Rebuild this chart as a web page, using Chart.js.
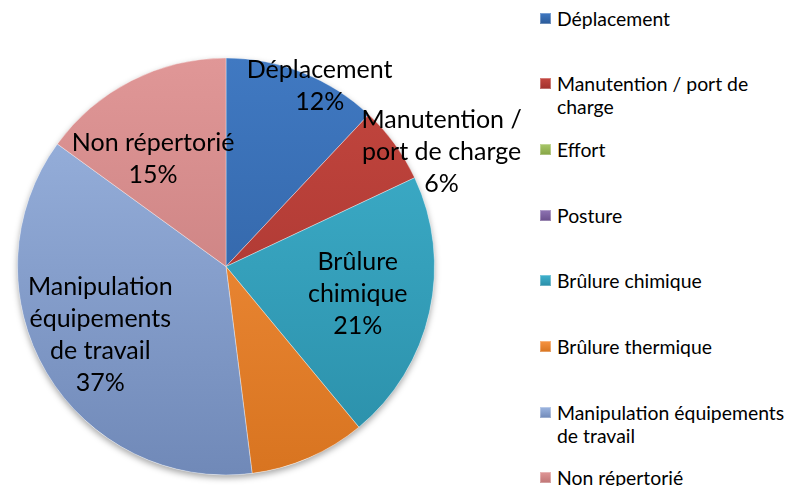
<!DOCTYPE html>
<html lang="fr">
<head>
<meta charset="utf-8">
<script src="https://cdn.jsdelivr.net/npm/chart.js@4/dist/chart.umd.min.js"></script>
<style>
    html, body { margin: 0; padding: 0; background: #fff; }
    #zone { position: relative; width: 793px; height: 486px; overflow: hidden; font-family: Lato, "Open Sans", sans-serif; }
    #graphique { position: absolute; left: 0; top: 0; }
    #legende { position: absolute; left: 540px; top: 0; width: 253px; height: 486px; }
    .item { position: absolute; left: 0; width: 253px; font-size: 19.4px; line-height: 23px; color: #000; }
    .item .carre { position: absolute; left: 0; top: 6px; width: 11px; height: 11px; }
    .item .texte { display: block; margin-left: 17px; width: 236px; }
</style>
</head>
<body>
<div id="zone">
    <canvas id="graphique" width="540" height="486"></canvas>
    <div id="legende"></div>
</div>
<script>
// Données du graphique (répartition en %)
const categories = ['Déplacement', 'Manutention / port de charge', 'Effort', 'Posture',
    'Brûlure chimique', 'Brûlure thermique', 'Manipulation équipements de travail', 'Non répertorié'];
const valeurs = [12, 6, 0, 0, 21, 9, 37, 15];
// Texte des étiquettes dans les secteurs (null = pas d'étiquette)
const etiquettes = [
    ['Déplacement'],
    ['Manutention /', 'port de charge'],
    null,
    null,
    ['Brûlure', 'chimique'],
    null,
    ['Manipulation', 'équipements', 'de travail'],
    ['Non répertorié']
];

// Couleurs (haut, bas) pour le dégradé de chaque secteur
const couleurs = [
    ['#4079c2', '#2b5a98'],
    ['#c4473f', '#a0302c'],
    ['#a8c76a', '#86a545'],
    ['#8f74b3', '#6a4f8c'],
    ['#40b2ce', '#2a8ea8'],
    ['#f79442', '#d87420'],
    ['#9db6e1', '#7089b8'],
    ['#e09797', '#bf7575']
];
// Position des étiquettes : fraction du rayon et décalage angulaire (degrés)
const positionEtiquettes = [
    { r: 0.976, da: 5.8 },
    { r: 1.17, da: 8.1 },
    null,
    null,
    { r: 0.645, da: -1 },
    null,
    { r: 0.686, da: 2.1 },
    { r: 0.622, da: -7.2 }
];

function degrade(context) {
    const i = context.dataIndex;
    const area = context.chart.chartArea;
    if (!area) return couleurs[i][0];
    const g = context.chart.ctx.createLinearGradient(0, area.top, 0, area.bottom);
    g.addColorStop(0, couleurs[i][0]);
    g.addColorStop(1, couleurs[i][1]);
    return g;
}

// Ombre légère sous le camembert
const ombre = {
    id: 'ombre',
    beforeDatasetsDraw(chart) {
        const arc = chart.getDatasetMeta(0).data[0];
        if (!arc) return;
        const { x, y, outerRadius } = arc.getProps(['x', 'y', 'outerRadius'], true);
        const ctx = chart.ctx;
        ctx.save();
        ctx.shadowColor = 'rgba(0,0,0,0.35)';
        ctx.shadowBlur = 6;
        ctx.shadowOffsetY = 3;
        ctx.fillStyle = '#fff';
        ctx.beginPath();
        ctx.arc(x, y, outerRadius, 0, Math.PI * 2);
        ctx.fill();
        ctx.restore();
    }
};

// Étiquettes de données dessinées sur les secteurs
const etiquettesSecteurs = {
    id: 'etiquettesSecteurs',
    afterDatasetsDraw(chart) {
        const ctx = chart.ctx;
        const meta = chart.getDatasetMeta(0);
        const total = valeurs.reduce((a, b) => a + b, 0);
        meta.data.forEach((arc, i) => {
            const pos = positionEtiquettes[i];
            if (!pos || !etiquettes[i] || valeurs[i] === 0) return;
            const p = arc.getProps(['x', 'y', 'startAngle', 'endAngle', 'outerRadius'], true);
            const milieu = (p.startAngle + p.endAngle) / 2 + pos.da * Math.PI / 180;
            const cx = p.x + Math.cos(milieu) * p.outerRadius * pos.r;
            const cy = p.y + Math.sin(milieu) * p.outerRadius * pos.r;
            const lignes = [...etiquettes[i], Math.round(valeurs[i] / total * 100) + '%'];
            const hauteur = 32;
            ctx.save();
            ctx.font = '25px Lato, "Open Sans", sans-serif';
            ctx.fillStyle = '#000';
            ctx.textAlign = 'center';
            ctx.textBaseline = 'middle';
            lignes.forEach((l, k) => {
                ctx.fillText(l, cx, cy + (k - (lignes.length - 1) / 2) * hauteur);
            });
            ctx.restore();
        });
    }
};

new Chart(document.getElementById('graphique'), {
    type: 'pie',
    data: {
        labels: categories,
        datasets: [{
            data: valeurs,
            backgroundColor: degrade,
            borderColor: 'rgba(255,255,255,0.35)',
            borderWidth: 1
        }]
    },
    options: {
        responsive: false,
        animation: false,
        layout: { padding: { left: 17, right: 105, top: 57.5, bottom: 10.5 } },
        plugins: {
            legend: { display: false },
            tooltip: { enabled: false }
        }
    },
    plugins: [ombre, etiquettesSecteurs]
});

// Légende HTML à droite
const legende = document.getElementById('legende');
categories.forEach((nom, i) => {
    const item = document.createElement('div');
    item.className = 'item';
    item.style.top = (18 + i * 65.7 - 11.5) + 'px';
    const carre = document.createElement('span');
    carre.className = 'carre';
    carre.style.background = 'linear-gradient(' + couleurs[i][0] + ', ' + couleurs[i][1] + ')';
    carre.style.boxShadow = 'inset 0 0 0 1px rgba(255,255,255,0.3)';
    const texte = document.createElement('span');
    texte.className = 'texte';
    texte.textContent = nom;
    item.appendChild(carre);
    item.appendChild(texte);
    legende.appendChild(item);
});
</script>
</body>
</html>
